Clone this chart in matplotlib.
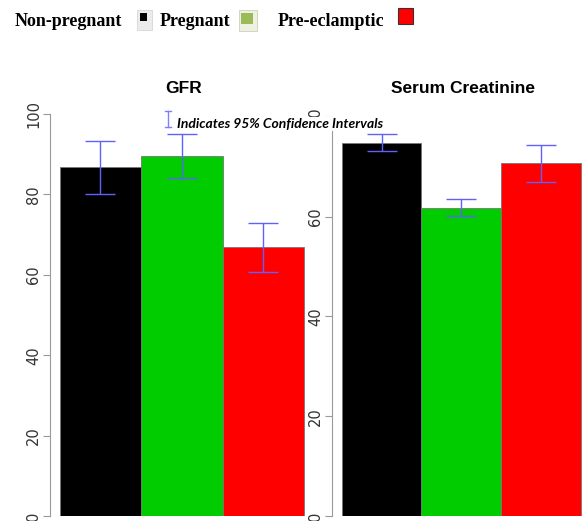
import matplotlib.pyplot as plt
from matplotlib.patches import Rectangle

# data
groups = ['Non-pregnant', 'Pregnant', 'Pre-eclamptic']
colors = ['#000000', '#00cc00', '#ff0000']

gfr_mean = [86.8, 89.5, 66.8]
gfr_low = [80.1, 84.1, 60.7]
gfr_high = [93.3, 95.0, 72.9]

creat_mean = [74.8, 61.8, 70.8]
creat_low = [73.2, 60.2, 67.0]
creat_high = [76.6, 63.6, 74.4]

W, H = 584, 521
fig = plt.figure(figsize=(W / 100, H / 100), dpi=100)


def px_axes(left, right, top, bottom):
    """axes from pixel box (top-left origin)"""
    return fig.add_axes([left / W, 1 - bottom / H, (right - left) / W, (bottom - top) / H])


def draw_panel(ax, means, lows, highs, ytop, yticks, title):
    x = range(len(means))
    ax.bar(x, means, width=1.0, color=colors, edgecolor='#777777', linewidth=0.6, zorder=2)
    err = [[m - l for m, l in zip(means, lows)], [h - m for m, h in zip(means, highs)]]
    ax.errorbar(x, means, yerr=err, fmt='none', ecolor='#6060ff', elinewidth=1.0,
                capsize=11, capthick=1.0, zorder=3)
    ax.set_ylim(0, ytop)
    ax.set_xlim(-0.62, len(means) - 0.5 + 0.16)
    for s in ['top', 'right', 'bottom']:
        ax.spines[s].set_visible(False)
    ax.spines['left'].set_bounds(yticks[0], yticks[-1])
    ax.spines['left'].set_color('#999999')
    ax.set_yticks(yticks)
    ax.set_yticklabels([str(t) for t in yticks], rotation=90, va='center',
                       fontsize=10.5, color='#333333')
    ax.tick_params(axis='y', length=5, color='#999999', pad=1.5)
    ax.set_xticks([])
    ax.set_title(title, fontsize=12.5, fontweight='bold', family='Liberation Sans', pad=1)


# left panel: 0 at y=516, 100 at y=114
ax1 = px_axes(50, 317, 96, 516)
draw_panel(ax1, gfr_mean, gfr_low, gfr_high, 420 / 4.02, [0, 20, 40, 60, 80, 100], 'GFR')

# right panel: 0 at y=516, 80 at y=117
ax2 = px_axes(332, 594, 96, 516)
draw_panel(ax2, creat_mean, creat_low, creat_high, 420 / 4.99, [0, 20, 40, 60, 80],
           'Serum Creatinine')

# confidence interval note over the panels
fig.text(177 / W, 1 - 124 / H, 'Indicates 95% Confidence Intervals', fontsize=10,
         style='italic', fontweight='bold', family='Lato', va='center', ha='left',
         bbox=dict(facecolor='white', edgecolor='none', pad=0.5), zorder=10)
fig.add_artist(plt.Line2D([168 / W, 168 / W], [1 - 111 / H, 1 - 127 / H], color='#8080ff', lw=1))
fig.add_artist(plt.Line2D([165 / W, 171 / W], [1 - 111 / H, 1 - 111 / H], color='#8080ff', lw=1))
fig.add_artist(plt.Line2D([165 / W, 171 / W], [1 - 127 / H, 1 - 127 / H], color='#8080ff', lw=1))

# legend row at the top
legend_x = [15, 160, 278]
for name, lx in zip(groups, legend_x):
    fig.text(lx / W, 1 - 21 / H, name, fontsize=13, fontweight='bold',
             family='Liberation Serif', va='center', ha='left')

# icon-like squares
fig.add_artist(Rectangle((137 / W, 1 - 30 / H), 15 / W, 20 / H, facecolor='#ececec',
                         edgecolor='#d0d0d0', lw=0.5))
fig.add_artist(Rectangle((140 / W, 1 - 21 / H), 7 / W, 8 / H, facecolor='black', lw=0))
fig.add_artist(Rectangle((239 / W, 1 - 31 / H), 18 / W, 21 / H, facecolor='#eef0e4',
                         edgecolor='#c0cca8', lw=0.5))
fig.add_artist(Rectangle((241 / W, 1 - 24 / H), 12 / W, 11 / H, facecolor='#9bbb59', lw=0))
fig.add_artist(Rectangle((398 / W, 1 - 24 / H), 15 / W, 16 / H, facecolor='#ff0000',
                         edgecolor='#333333', lw=0.8))

fig.savefig('out.png', dpi=100)
